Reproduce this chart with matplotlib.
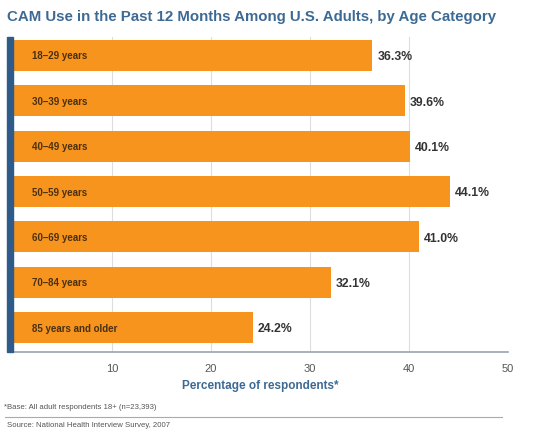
import matplotlib.pyplot as plt
from matplotlib.lines import Line2D
from matplotlib.patches import Rectangle

# data
ages = ['18\u201329 years', '30\u201339 years', '40\u201349 years', '50\u201359 years',
        '60\u201369 years', '70\u201384 years', '85 years and older']
pct = [36.3, 39.6, 40.1, 44.1, 41.0, 32.1, 24.2]
ticks = [10, 20, 30, 40, 50]

orange = '#f7941d'
blue = '#3d6a94'
plt.rcParams['font.family'] = ['Liberation Sans', 'DejaVu Sans']

W, H = 536, 431
fig = plt.figure(figsize=(W / 100, H / 100), dpi=100)
fig.patch.set_facecolor('white')

def fx(px):
    return px / W

def fy(py):
    return 1 - py / H

# main axes: left 13px, right ~508px, top 38px, bottom 353px
ax = fig.add_axes([fx(13), fy(353), fx(508) - fx(13), fy(38) - fy(353)])
ypos = list(range(len(ages)))
ax.barh(ypos, pct, height=0.684, color=orange, zorder=2)
ax.set_ylim(6.54, -0.408)
ax.set_xlim(0, 50)
ax.set_xticks(ticks)
ax.set_xticklabels([str(t) for t in ticks], color='#555555', fontsize=8)
ax.tick_params(axis='x', length=0, pad=8)
ax.set_yticks([])
ax.grid(axis='x', color='#dddddd', lw=0.8, zorder=0)
for s in ['top', 'right', 'left']:
    ax.spines[s].set_visible(False)
ax.spines['bottom'].set_color('#9aa4b0')
ax.spines['bottom'].set_linewidth(1.2)

for i, (lab, v) in enumerate(zip(ages, pct)):
    ax.text(1.9, i, lab, va='center', ha='left', fontsize=7,
            fontweight='bold', color='#4a3010', zorder=3)
    ax.text(v + 0.5, i + 0.02, f'{v:.1f}%', va='center', ha='left',
            fontsize=8.8, fontweight='bold', color='#333333', zorder=3)

ax.set_xlabel('Percentage of respondents*', color=blue, fontsize=8.5,
              fontweight='bold', labelpad=4)

# blue strip on the left
fig.patches.append(Rectangle((fx(7), fy(353)), fx(13) - fx(7), fy(38) - fy(353),
                             transform=fig.transFigure, color='#2f5b8a', zorder=5))

fig.text(fx(7), fy(17), 'CAM Use in the Past 12 Months Among U.S. Adults, by Age Category',
         ha='left', va='center', fontsize=10.8, fontweight='bold', color=blue)

fig.text(fx(4), fy(408), '*Base: All adult respondents 18+ (n=23,393)',
         ha='left', va='center', fontsize=5.6, color='#555555')
fig.add_artist(Line2D([fx(5), fx(502)], [fy(418), fy(418)],
                      transform=fig.transFigure, color='#aaaaaa', lw=0.8))
fig.text(fx(7), fy(426), 'Source: National Health Interview Survey, 2007',
         ha='left', va='center', fontsize=5.6, color='#555555')

fig.savefig('out.png', dpi=100)
